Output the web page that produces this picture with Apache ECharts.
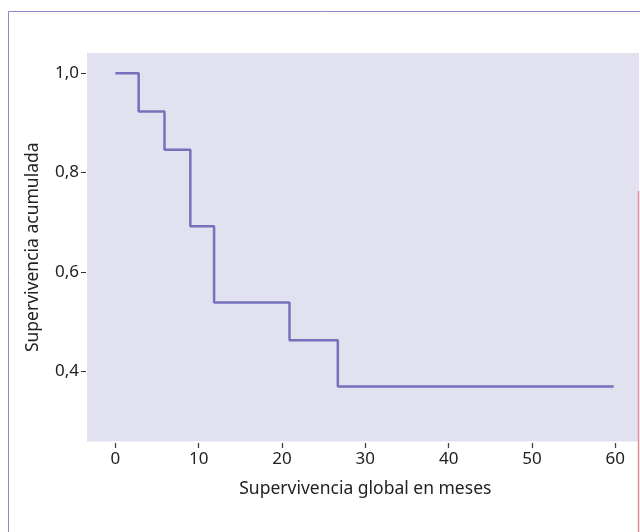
<!DOCTYPE html>
<html><head><meta charset="utf-8">
<script src="https://cdn.jsdelivr.net/npm/echarts@6/dist/echarts.min.js"></script>
<style>html,body{margin:0;padding:0;background:#fff}#c{width:640px;height:532px}</style>
</head><body><div id="c"></div>
<script>
const months = [0, 2.8, 5.9, 9.0, 11.85, 20.9, 26.7, 59.8];
const survival = [1.0, 0.923, 0.846, 0.692, 0.538, 0.462, 0.369, 0.369];
const xTicks = [0, 10, 20, 30, 40, 50, 60];
const yTicks = [0.4, 0.6, 0.8, 1.0];
const xTitle = 'Supervivencia global en meses';
const yTitle = 'Supervivencia acumulada';

const font = 'Noto Sans';
const txt = {fontFamily: font, fontSize: 17, color: '#222'};
const chart = echarts.init(document.getElementById('c'), null, {renderer: 'canvas'});
chart.setOption({
  animation: false,
  grid: [
    {left: 87, right: 1, top: 53, bottom: 90.5, show: true, backgroundColor: '#e2e1f0', borderWidth: 0},
    {left: 115.3, right: 24.7, top: 53, bottom: 90.5, show: false}
  ],
  xAxis: [
    {gridIndex: 0, type: 'value', min: -3.4, max: 62.84,
     axisLine: {show: false, onZero: false}, axisTick: {show: false},
     axisLabel: {show: false}, splitLine: {show: false}},
    {gridIndex: 1, type: 'value', min: xTicks[0], max: xTicks[xTicks.length - 1], interval: 10, offset: 1.5,
     name: xTitle, nameLocation: 'middle', nameGap: 37,
     nameTextStyle: Object.assign({}, txt, {fontSize: 17.5}),
     axisLine: {show: false, onZero: false}, splitLine: {show: false},
     axisTick: {show: false},
     axisLabel: Object.assign({margin: 8}, txt)},
    {gridIndex: 1, type: 'value', min: xTicks[0], max: xTicks[xTicks.length - 1], interval: 10, offset: 1.5,
     position: 'bottom',
     axisLine: {show: false, onZero: false}, splitLine: {show: false},
     axisTick: {show: true, length: 5, lineStyle: {color: '#444', width: 1.3}},
     axisLabel: {show: false}}
  ],
  yAxis: [
    {gridIndex: 0, type: 'value', min: 0.258, max: 1.041, offset: 1,
     name: yTitle, nameLocation: 'middle', nameGap: 44, nameRotate: 90,
     nameTextStyle: Object.assign({}, txt, {fontSize: 17.5}),
     axisLine: {show: false, onZero: false}, splitLine: {show: false},
     axisTick: {show: true, length: 5, lineStyle: {color: '#333', width: 1}, customValues: yTicks},
     axisLabel: Object.assign({margin: 7, customValues: yTicks,
       formatter: v => v.toFixed(1).replace('.', ',')}, txt)},
    {gridIndex: 1, type: 'value', min: 0.258, max: 1.041, show: false}
  ],
  series: [{
    type: 'line', step: 'end', symbol: 'none', xAxisIndex: 0, yAxisIndex: 0,
    data: months.map((m, i) => [m, survival[i]]),
    lineStyle: {color: '#7571bb', width: 2.5}
  }],
  graphic: [
    {type: 'rect', silent: true, shape: {x: 8.5, y: 11.5, width: 700, height: 600},
     style: {fill: null, stroke: '#8a86cc', lineWidth: 1}},
    {type: 'line', silent: true, shape: {x1: 638.5, y1: 191, x2: 638.5, y2: 532},
     style: {stroke: '#ea8a94', lineWidth: 1.5}}
  ]
});
</script></body></html>
